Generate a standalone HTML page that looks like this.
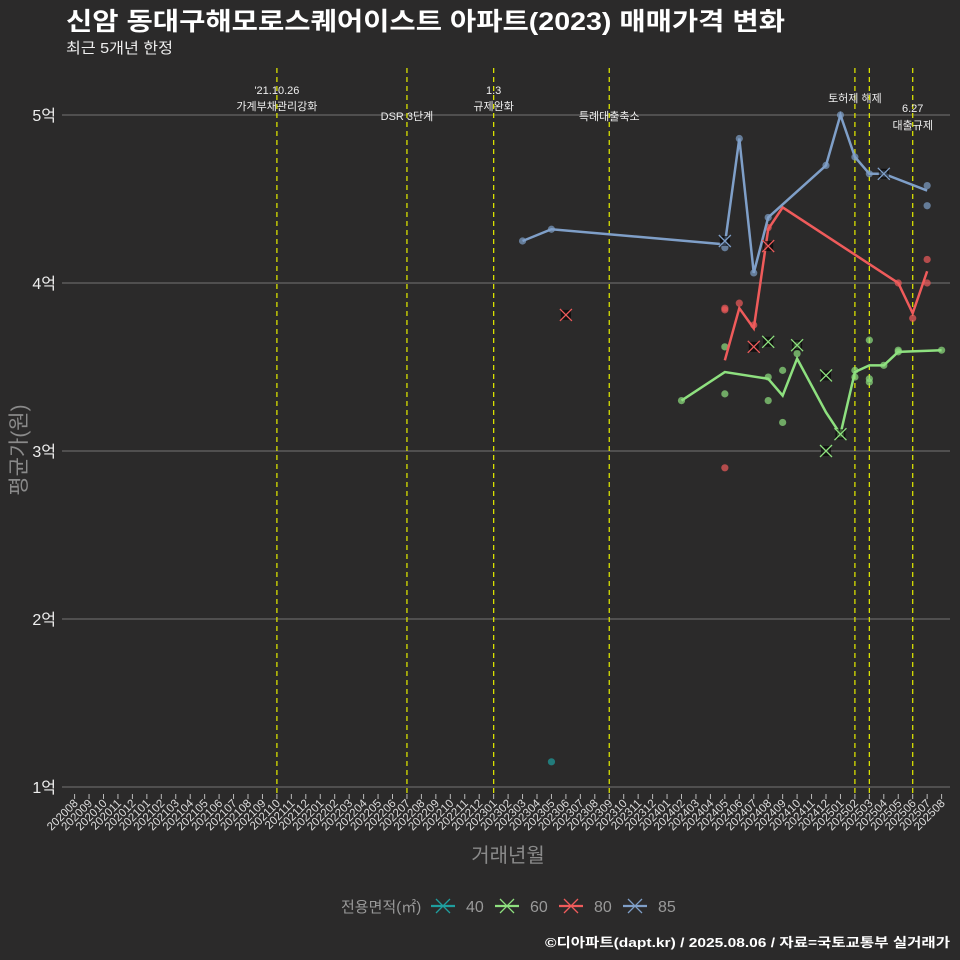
<!DOCTYPE html>
<html><head><meta charset="utf-8"><style>
body{margin:0;background:#2b2a2a;}
svg{display:block;font-family:"Liberation Sans","Noto Sans CJK KR",sans-serif;}
</style></head><body>
<svg id="c" width="960" height="960">
<rect width="960" height="960" fill="#2b2a2a"/>
<text x="66" y="30" fill="#fff" font-size="25" font-weight="bold" textLength="719" lengthAdjust="spacingAndGlyphs">신암 동대구해모로스퀘어이스트 아파트(2023) 매매가격 변화</text>
<text x="66" y="53" fill="#eee" font-size="15" textLength="107" lengthAdjust="spacingAndGlyphs">최근 5개년 한정</text>
<text transform="translate(26,450) rotate(-90)" fill="#8a8a8a" font-size="21" text-anchor="middle">평균가(원)</text>
<text x="508" y="862" fill="#8a8a8a" font-size="20" text-anchor="middle">거래년월</text>
<text x="950" y="947" fill="#fff" font-size="13" font-weight="bold" text-anchor="end" textLength="405" lengthAdjust="spacingAndGlyphs">©디아파트(dapt.kr) / 2025.08.06 / 자료=국토교통부 실거래가</text>
<g id="grid"></g><g id="events"></g><g id="marks"></g><g id="legend"></g>
</svg>
<script>
const yTicks=[1,2,3,4,5];
const months=[];for(let y=2020;y<=2025;y++)for(let m=1;m<=12;m++){const k=y*100+m;if(k>=202008&&k<=202508)months.push(String(k));}
const eventMonths=['202110','202207','202301','202309','202502','202503','202506'];
const eventLabels=[["'21.10.26","가계부채관리강화"],["","DSR 3단계"],["1.3","규제완화"],["","특례대출축소"],["토허제 해제",""],["",""],["6.27","대출규제"]];
const s85M=['202303','202305','202405','202406','202407','202408','202412','202501','202502','202503','202504','202507'];
const s85V=[4.25,4.32,4.23,4.86,4.06,4.39,4.70,5.0,4.75,4.65,4.65,4.55];
const s80M=['202405','202406','202407','202408','202409','202505','202506','202507'];
const s80V=[3.54,3.85,3.73,4.32,4.45,4.0,3.82,4.07];
const s60M=['202402','202405','202408','202409','202410','202412','202501','202502','202503','202504','202505','202508'];
const s60V=[3.30,3.47,3.43,3.33,3.55,3.23,3.10,3.47,3.51,3.51,3.59,3.60];
const d85M=['202303','202305','202405','202406','202407','202408','202412','202501','202502','202503','202504','202507','202507'];
const d85V=[4.25,4.32,4.21,4.86,4.06,4.39,4.70,5.0,4.75,4.65,4.65,4.58,4.46];
const d80M=['202405','202405','202405','202406','202407','202408','202506','202507','202507','202505'];
const d80V=[3.85,3.84,2.9,3.88,3.75,4.33,3.79,4.14,4.0,4.0];
const d60M=['202402','202405','202405','202408','202408','202409','202409','202410','202410','202501','202502','202502','202503','202503','202503','202504','202505','202505','202508'];
const d60V=[3.30,3.62,3.34,3.44,3.30,3.48,3.17,3.63,3.58,3.10,3.48,3.44,3.66,3.43,3.41,3.51,3.60,3.59,3.60];
const d40M=['202305'];const d40V=[1.15];
const x85M=['202405','202504'];const x85V=[4.25,4.65];
const x80M=['202306','202407','202408'];const x80V=[3.81,3.62,4.22];
const x60M=['202408','202410','202412','202412','202501'];const x60V=[3.65,3.63,3.45,3.0,3.10];
const legendKeys=['40','60','80','85'];
const colors={'40':'#1f9e9e','60':'#8ee07f','80':'#ef5b5b','85':'#7f9fc8'};
const NS='http://www.w3.org/2000/svg';
function X(m){return 74.6+months.indexOf(m)*14.45;}
function Y(v){return 115+(5-v)*168;}
function mk(t,a,p){const e=document.createElementNS(NS,t);for(const k in a)e.setAttribute(k,a[k]);(p||document.getElementById('marks')).appendChild(e);return e;}
const grid=document.getElementById('grid');
yTicks.forEach(v=>{const l=mk('line',{x1:62,x2:950,y1:Y(v),y2:Y(v),stroke:'#666','stroke-width':1.2},grid);


const t=mk('text',{x:56,y:Y(v)+6,fill:'#eee','font-size':16,'text-anchor':'end'},grid);t.textContent=v+'억';

});
months.forEach(m=>{const x=X(m);mk('line',{x1:x,x2:x,y1:794,y2:799,stroke:'#bbb'},grid);
const t=mk('text',{transform:`translate(${x+4},804) rotate(-45)`,fill:'#ddd','font-size':11.5,'text-anchor':'end'},grid);t.textContent=m;

});
const ev=document.getElementById('events');
eventMonths.forEach((m,i)=>{const x=X(m);const l=mk('line',{x1:x,x2:x,y1:68,y2:795,stroke:'#d8e000','stroke-width':1.3,'stroke-dasharray':'5,4'},ev);


const L=eventLabels[i];let y1=94,y2=110;
if(!L[0]){y2=120;} if(m==='202502'){y1=102;} if(m==='202506'){y1=112;y2=129;}
if(L[0]){const t=mk('text',{x:x,y:y1,fill:'#eee','font-size':11,'text-anchor':'middle'},ev);t.textContent=L[0];}
if(L[1]){const t=mk('text',{x:x,y:y2,fill:'#eee','font-size':11,'text-anchor':'middle'},ev);t.textContent=L[1];}});
function dots(M,V,c,nm){M.forEach((m,i)=>{const e=mk('circle',{cx:X(m),cy:Y(V[i]),r:3.6,fill:c,'fill-opacity':0.7});

});}
function line(M,V,c,nm){const e=mk('polyline',{points:M.map((m,i)=>X(m)+','+Y(V[i])).join(' '),fill:'none',stroke:c,'stroke-width':2.5});

}
function xs(M,V,c,nm){M.forEach((m,i)=>{const x=X(m),y=Y(V[i]);const g=mk('g',{});


mk('rect',{x:x-5,y:y-5,width:10,height:10,fill:'#000','fill-opacity':0.6},g);
mk('path',{d:`M${x-6},${y-6}L${x+6},${y+6}M${x-6},${y+6}L${x+6},${y-6}`,stroke:c,'stroke-width':1.3},g);});}
dots(d40M,d40V,colors['40'],'point-40');
dots(d60M,d60V,colors['60'],'point-60');
dots(d80M,d80V,colors['80'],'point-80');
dots(d85M,d85V,colors['85'],'point-85');
line(s60M,s60V,colors['60'],'line-60');
line(s80M,s80V,colors['80'],'line-80');
line(s85M,s85V,colors['85'],'line-85');
xs(x60M,x60V,colors['60'],'x-marker-60');
xs(x80M,x80V,colors['80'],'x-marker-80');
xs(x85M,x85V,colors['85'],'x-marker-85');
const lg=document.getElementById('legend');
const lt=mk('text',{x:341,y:912,fill:'#999','font-size':15},lg);lt.textContent='전용면적(㎡)';


legendKeys.forEach((k,i)=>{const x=443+i*64;const g=mk('g',{},lg);


mk('line',{x1:x-12,x2:x+12,y1:906,y2:906,stroke:colors[k],'stroke-width':2.2},g);
mk('path',{d:`M${x-7},${899}L${x+7},${913}M${x-7},${913}L${x+7},${899}`,stroke:colors[k],'stroke-width':1.3},g);
const t=mk('text',{x:x+23,y:912,fill:'#999','font-size':16},g);t.textContent=k;});
</script>
</body></html>
